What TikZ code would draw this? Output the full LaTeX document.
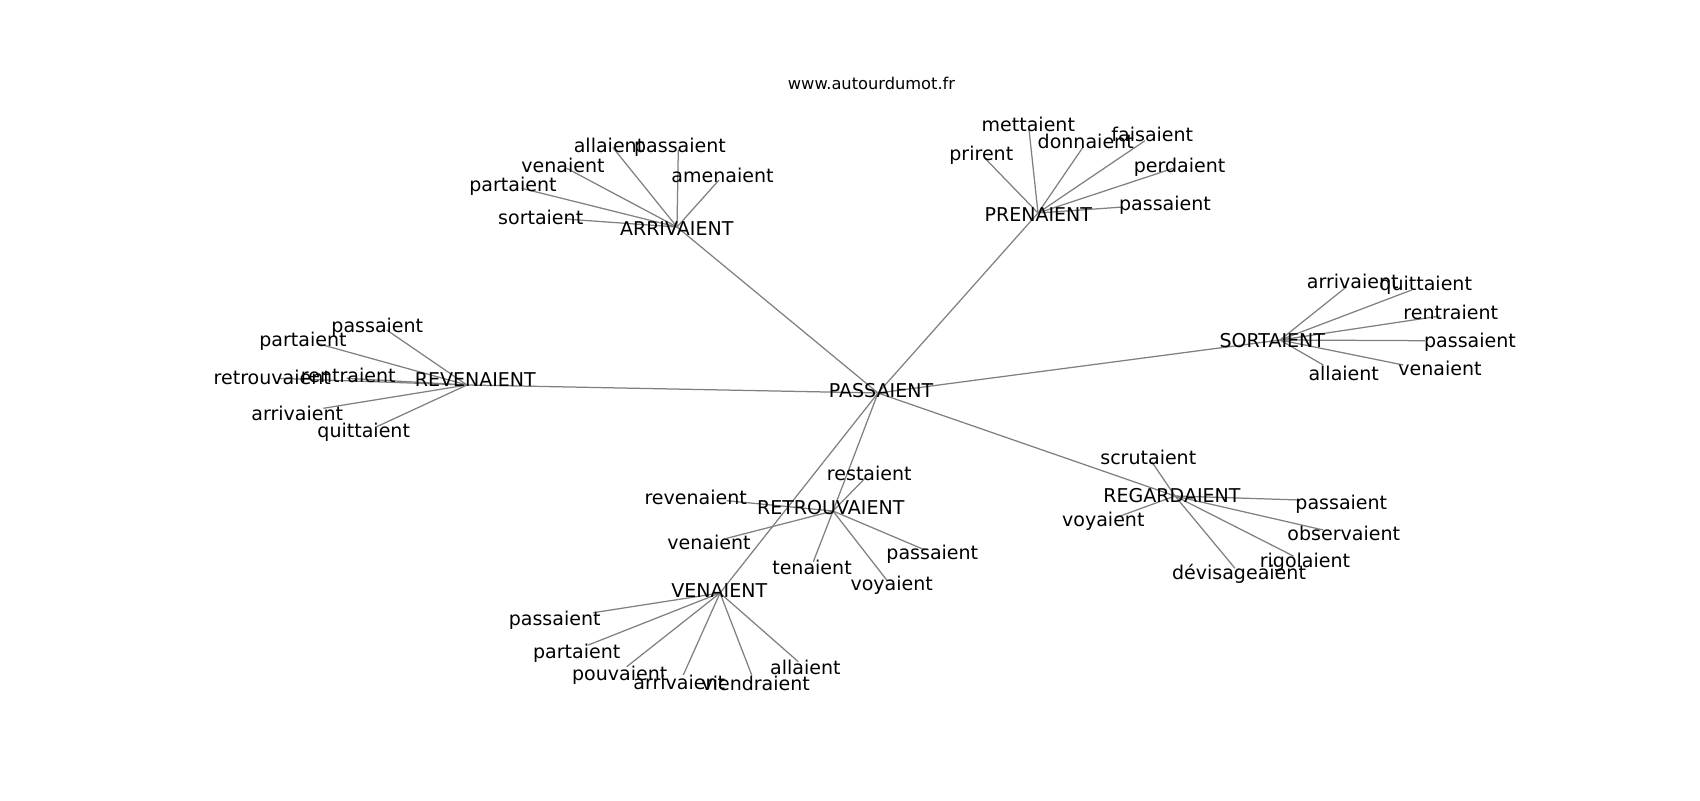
\documentclass[tikz,border=0pt]{standalone}
\usepackage{fontspec}
\setmainfont{DejaVu Sans}
\begin{document}
\begin{tikzpicture}[x=0.72pt,y=-0.72pt,
  lbl/.style={font=\fontsize{13.7}{16}\selectfont, inner sep=0pt, text height=10.4pt, text depth=3.3pt, anchor=center, yshift=-1.8pt},
  ttl/.style={font=\fontsize{11.7}{14}\selectfont, inner sep=0pt, text height=8.9pt, text depth=2.8pt, anchor=center, yshift=-1.5pt},
  lnk/.style={draw=black!50, line width=0.9pt}]
\useasboundingbox (0,0) rectangle (1700,800);
% hub anchor points
\coordinate (cPAS) at (878,393);
\coordinate (cARR) at (677,227);
\coordinate (cPRE) at (1038,213);
\coordinate (cSOR) at (1280,340);
\coordinate (cREV) at (467,385);
\coordinate (cRET) at (833,511);
\coordinate (cVEN) at (720,593);
\coordinate (cREG) at (1175,496);
% leaf edge ends
\coordinate (eA1) at (612.7,147.3);
\coordinate (eA2) at (678.3,150);
\coordinate (eA3) at (719,180);
\coordinate (eA4) at (566.7,168.3);
\coordinate (eA5) at (521.7,188.3);
\coordinate (eA6) at (565,219);
\coordinate (eP1) at (985,158.3);
\coordinate (eP2) at (1029,129.3);
\coordinate (eP3) at (1083.3,146.7);
\coordinate (eP4) at (1145,140.7);
\coordinate (eP5) at (1173.3,168.3);
\coordinate (eP6) at (1123,207);
\coordinate (eS1) at (1346.7,286.7);
\coordinate (eS2) at (1411.7,290);
\coordinate (eS3) at (1440,316);
\coordinate (eS4) at (1425,340.7);
\coordinate (eS5) at (1403.3,365);
\coordinate (eS6) at (1323.3,365);
\coordinate (eR1) at (386.7,330);
\coordinate (eR2) at (316.7,343.3);
\coordinate (eR3) at (278.3,378.3);
\coordinate (eR4) at (346.7,378.3);
\coordinate (eR5) at (323.3,408.3);
\coordinate (eR6) at (376.7,426.7);
\coordinate (eT1) at (865,478.3);
\coordinate (eT2) at (726.7,500.7);
\coordinate (eT3) at (726.7,538.3);
\coordinate (eT4) at (813.3,561.7);
\coordinate (eT5) at (925,550);
\coordinate (eT6) at (886.7,580);
\coordinate (eV1) at (593.3,612.7);
\coordinate (eV2) at (588.3,645);
\coordinate (eV3) at (626.7,666.7);
\coordinate (eV4) at (683.3,675);
\coordinate (eV5) at (751.7,675);
\coordinate (eV6) at (798.3,661.7);
\coordinate (eG1) at (1151.7,461.7);
\coordinate (eG2) at (1116.7,517.3);
\coordinate (eG3) at (1300,500);
\coordinate (eG4) at (1323.3,530);
\coordinate (eG5) at (1293.3,556);
\coordinate (eG6) at (1235,568.3);
% edges
\foreach \h in {cARR,cPRE,cSOR,cREV,cRET,cVEN,cREG} \draw[lnk] (cPAS) -- (\h);
\foreach \e in {eA1,eA2,eA3,eA4,eA5,eA6} \draw[lnk] (cARR) -- (\e);
\foreach \e in {eP1,eP2,eP3,eP4,eP5,eP6} \draw[lnk] (cPRE) -- (\e);
\foreach \e in {eS1,eS2,eS3,eS4,eS5,eS6} \draw[lnk] (cSOR) -- (\e);
\foreach \e in {eR1,eR2,eR3,eR4,eR5,eR6} \draw[lnk] (cREV) -- (\e);
\foreach \e in {eT1,eT2,eT3,eT4,eT5,eT6} \draw[lnk] (cRET) -- (\e);
\foreach \e in {eV1,eV2,eV3,eV4,eV5,eV6} \draw[lnk] (cVEN) -- (\e);
\foreach \e in {eG1,eG2,eG3,eG4,eG5,eG6} \draw[lnk] (cREG) -- (\e);
% title
\node[ttl] (title) at (871.5,83) {www.autourdumot.fr};
% hubs
\node[lbl] (PAS) at (881,390) {PASSAIENT};
\node[lbl] (ARR) at (676.7,228.3) {ARRIVAIENT};
\node[lbl] (PRE) at (1038.3,214.3) {PRENAIENT};
\node[lbl] (SOR) at (1272.3,340) {SORTAIENT};
\node[lbl] (REV) at (475.3,379.3) {REVENAIENT};
\node[lbl] (RET) at (830.7,506.7) {RETROUVAIENT};
\node[lbl] (VEN) at (719.3,590) {VENAIENT};
\node[lbl] (REG) at (1172,495) {REGARDAIENT};
% ARRIVAIENT leaves
\node[lbl] (A1) at (609,145) {allaient};
\node[lbl] (A2) at (680,145) {passaient};
\node[lbl] (A3) at (722.5,175) {amenaient};
\node[lbl] (A4) at (563,165) {venaient};
\node[lbl] (A5) at (513,184) {partaient};
\node[lbl] (A6) at (540.7,217) {sortaient};
% PRENAIENT leaves
\node[lbl] (P1) at (981.3,152.7) {prirent};
\node[lbl] (P2) at (1028.3,124) {mettaient};
\node[lbl] (P3) at (1085.7,140.7) {donnaient};
\node[lbl] (P4) at (1152.3,134.3) {faisaient};
\node[lbl] (P5) at (1179.6,164.8) {perdaient};
\node[lbl] (P6) at (1165,202.7) {passaient};
% SORTAIENT leaves
\node[lbl] (S1) at (1352.7,280.7) {arrivaient};
\node[lbl] (S2) at (1425.7,283.3) {quittaient};
\node[lbl] (S3) at (1450.7,311.7) {rentraient};
\node[lbl] (S4) at (1470,340) {passaient};
\node[lbl] (S5) at (1440,368.3) {venaient};
\node[lbl] (S6) at (1343.7,372.7) {allaient};
% REVENAIENT leaves
\node[lbl] (R1) at (377.3,325) {passaient};
\node[lbl] (R2) at (303,339) {partaient};
\node[lbl] (R3) at (272.3,376.7) {retrouvaient};
\node[lbl] (R4) at (348.3,375) {rentraient};
\node[lbl] (R5) at (297.3,413.3) {arrivaient};
\node[lbl] (R6) at (363.7,430) {quittaient};
% RETROUVAIENT leaves
\node[lbl] (T1) at (869.3,473.3) {restaient};
\node[lbl] (T2) at (695.7,496.7) {revenaient};
\node[lbl] (T3) at (709,542.5) {venaient};
\node[lbl] (T4) at (812,566.7) {tenaient};
\node[lbl] (T5) at (932.3,551.7) {passaient};
\node[lbl] (T6) at (891.7,583.3) {voyaient};
% VENAIENT leaves
\node[lbl] (V1) at (554.7,618.3) {passaient};
\node[lbl] (V2) at (576.7,650.7) {partaient};
\node[lbl] (V3) at (619.7,673.3) {pouvaient};
\node[lbl] (V4) at (679.3,681.7) {arrivaient};
\node[lbl] (V5) at (755.7,682.7) {viendraient};
\node[lbl] (V6) at (805.3,666.7) {allaient};
% REGARDAIENT leaves
\node[lbl] (G1) at (1148.3,456.7) {scrutaient};
\node[lbl] (G2) at (1103.3,519.3) {voyaient};
\node[lbl] (G3) at (1341.3,501.7) {passaient};
\node[lbl] (G4) at (1343.7,533.3) {observaient};
\node[lbl] (G5) at (1305,560) {rigolaient};
\node[lbl] (G6) at (1239,571.7) {dévisageaient};
\end{tikzpicture}
\end{document}
